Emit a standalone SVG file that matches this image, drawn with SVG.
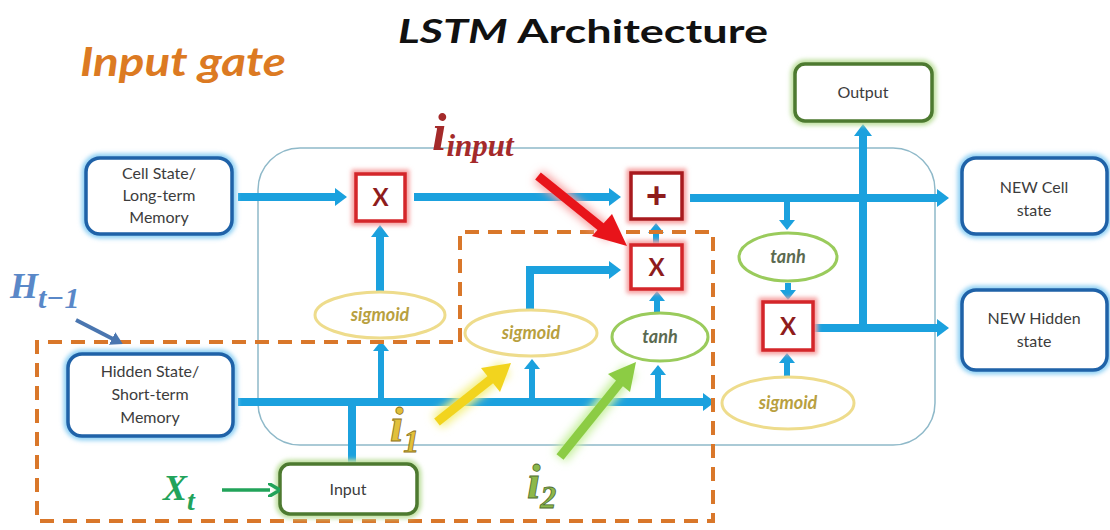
<svg xmlns="http://www.w3.org/2000/svg" width="1110" height="530" viewBox="0 0 1110 530">
  <defs>
    <style>
      .title { font-family: Lato, "Open Sans", "Liberation Sans", sans-serif; font-weight: bold; fill: #111; }
      .gate { font-family: Lato, "Open Sans", "Liberation Sans", sans-serif; font-weight: bold; font-style: italic; fill: #dc7a22; }
      .lbl { font-family: Lato, "Open Sans", "Liberation Sans", sans-serif; font-size: 16px; fill: #3c3c3c; text-anchor: middle; }
      .op { font-family: Lato, "Open Sans", "Liberation Sans", sans-serif; font-size: 24px; font-weight: bold; fill: #8e1c1c; text-anchor: middle; }
      .plus { font-family: "Liberation Sans", Arial, sans-serif; font-size: 36px; font-weight: bold; fill: #8e1c1c; text-anchor: middle; }
      .act { font-family: Lato, "Open Sans", "Liberation Sans", sans-serif; font-size: 18px; font-style: italic; font-weight: bold; text-anchor: middle; }
      .math { font-family: "Liberation Serif", "DejaVu Serif", serif; font-style: italic; font-weight: bold; }
      .bluebox { fill: #fff; stroke: #1f62a8; stroke-width: 3.5; }
      .blueglow { fill: none; stroke: #8fd0f4; stroke-width: 9; filter: url(#soft); }
      .greenbox { fill: #fff; stroke: #4d7a30; stroke-width: 3.5; }
      .greenglow { fill: none; stroke: #bfe0a0; stroke-width: 9; filter: url(#soft); }
      .redbox { fill: #fff; stroke: #d4262a; stroke-width: 3.5; }
      .redglow { fill: none; stroke: #f6a0a0; stroke-width: 9; filter: url(#soft); }
      .sig { fill: #fff; stroke: #eedc8c; stroke-width: 3; }
      .tnh { fill: #fff; stroke: #9acb5c; stroke-width: 3; }
      .wire { fill: none; stroke: #1ba1de; stroke-width: 8; }
      .stub { fill: none; stroke: #1ba1de; stroke-width: 6; }
    </style>
    <filter id="soft" x="-20%" y="-30%" width="140%" height="160%">
      <feGaussianBlur stdDeviation="2.2"/>
    </filter>
    <filter id="halo" x="-40%" y="-40%" width="180%" height="180%">
      <feGaussianBlur stdDeviation="4"/>
    </filter>
    <marker id="ab" viewBox="0 -9 12 18" markerWidth="12" markerHeight="18" refX="1" refY="0" orient="auto" markerUnits="userSpaceOnUse">
      <path d="M0,-9 L12,0 L0,9 z" fill="#1ba1de"/>
    </marker>
    <marker id="as" viewBox="0 -8 10 16" markerWidth="10" markerHeight="16" refX="1" refY="0" orient="auto" markerUnits="userSpaceOnUse">
      <path d="M0,-8 L10,0 L0,8 z" fill="#1ba1de"/>
    </marker>
    <marker id="hb" viewBox="0 -7 12 14" markerWidth="12" markerHeight="14" refX="1" refY="0" orient="auto" markerUnits="userSpaceOnUse">
      <path d="M0,-7 L12,0 L0,7 z" fill="#4a76b0"/>
    </marker>
    <marker id="xg" viewBox="0 -7 12 14" markerWidth="12" markerHeight="14" refX="2" refY="0" orient="auto" markerUnits="userSpaceOnUse">
      <path d="M0,-7 L12,0 L0,7" fill="none" stroke="#22a35a" stroke-width="3.5"/>
    </marker>
  </defs>

  <rect width="1110" height="530" fill="#ffffff"/>

  <!-- headings -->
  <text class="title" x="398" y="43" font-size="32" textLength="370" lengthAdjust="spacingAndGlyphs"><tspan font-style="italic">LSTM</tspan> Architecture</text>
  <text class="gate" x="80" y="76" font-size="40" textLength="206" lengthAdjust="spacingAndGlyphs">Input gate</text>

  <!-- cell body -->
  <rect id="cell-body" x="258" y="148" width="677" height="297" rx="42" fill="none" stroke="#8fb9c9" stroke-width="1.5"/>

  <!-- connectors -->
  <g id="connectors">
    <path class="wire" d="M238,197 H336" marker-end="url(#ab)"/>
    <path class="wire" d="M414,197 H610" marker-end="url(#ab)"/>
    <path class="wire" d="M690,198 H938" marker-end="url(#ab)"/>
    <path class="stub" d="M787,198 V221" marker-end="url(#as)"/>
    <path class="stub" d="M788,283 V291" marker-end="url(#as)"/>
    <path class="stub" d="M787,378 V362" marker-end="url(#as)"/>
    <path class="wire" d="M813,328 H938" marker-end="url(#ab)"/>
    <path class="wire" d="M863,328 V135" marker-end="url(#ab)"/>
    <path class="wire" d="M238,402 H704" marker-end="url(#ab)"/>
    <path class="wire" d="M352,464 V398"/>
    <path class="stub" d="M381,402 V350" marker-end="url(#as)"/>
    <path class="wire" d="M380,292 V236" marker-end="url(#ab)"/>
    <path class="stub" d="M532,402 V368" marker-end="url(#as)"/>
    <path class="stub" d="M658,402 V374" marker-end="url(#as)"/>
    <path class="wire" d="M530,310 V270 H610" marker-end="url(#ab)"/>
    <path class="stub" d="M657,313 V300" marker-end="url(#as)"/>
    <path class="stub" d="M656,245 V232" marker-end="url(#as)"/>
  </g>

  <!-- input gate region -->
  <path id="input-gate-region" d="M460,342 V232 H713 V521 H37 V342 Z" fill="none" stroke="#d9772a" stroke-width="4" stroke-dasharray="14 9"/>

  <!-- state boxes -->
  <g id="cell-state">
    <rect class="blueglow" x="86" y="158" width="146" height="76" rx="14"/>
    <rect class="bluebox" x="86" y="158" width="146" height="76" rx="14"/>
    <text class="lbl" x="159" y="179">Cell State/</text>
    <text class="lbl" x="159" y="201">Long-term</text>
    <text class="lbl" x="159" y="223">Memory</text>
  </g>
  <g id="hidden-state">
    <rect class="blueglow" x="68" y="354" width="165" height="82" rx="14"/>
    <rect class="bluebox" x="68" y="354" width="165" height="82" rx="14"/>
    <text class="lbl" x="150" y="377">Hidden State/</text>
    <text class="lbl" x="150" y="400">Short-term</text>
    <text class="lbl" x="150" y="423">Memory</text>
  </g>
  <g id="new-cell-state">
    <rect class="blueglow" x="962" y="158" width="145" height="76" rx="14"/>
    <rect class="bluebox" x="962" y="158" width="145" height="76" rx="14"/>
    <text class="lbl" x="1034" y="193">NEW Cell</text>
    <text class="lbl" x="1034" y="216">state</text>
  </g>
  <g id="new-hidden-state">
    <rect class="blueglow" x="962" y="290" width="145" height="80" rx="14"/>
    <rect class="bluebox" x="962" y="290" width="145" height="80" rx="14"/>
    <text class="lbl" x="1034" y="324">NEW Hidden</text>
    <text class="lbl" x="1034" y="347">state</text>
  </g>
  <g id="output">
    <rect class="greenglow" x="795" y="64" width="137" height="57" rx="10"/>
    <rect class="greenbox" x="795" y="64" width="137" height="57" rx="10"/>
    <text class="lbl" x="863" y="98">Output</text>
  </g>
  <g id="input">
    <rect class="greenglow" x="280" y="464" width="137" height="50" rx="10"/>
    <rect class="greenbox" x="280" y="464" width="137" height="50" rx="10"/>
    <text class="lbl" x="348" y="495">Input</text>
  </g>

  <!-- pointwise operations -->
  <g id="forget-mul">
    <rect class="redglow" x="356" y="174" width="49" height="47"/>
    <rect class="redbox" x="356" y="174" width="49" height="47"/>
    <text class="op" x="380.5" y="206">X</text>
  </g>
  <g id="cell-add">
    <rect class="redglow" x="631" y="173" width="51" height="46"/>
    <rect class="redbox" x="631" y="173" width="51" height="46" style="stroke:#a81a1e"/>
    <text class="plus" x="656.5" y="208">+</text>
  </g>
  <g id="input-mul">
    <rect class="redglow" x="631" y="245" width="51" height="44"/>
    <rect class="redbox" x="631" y="245" width="51" height="44"/>
    <text class="op" x="656.5" y="276">X</text>
  </g>
  <g id="output-mul">
    <rect class="redglow" x="763" y="302" width="50" height="48"/>
    <rect class="redbox" x="763" y="302" width="50" height="48"/>
    <text class="op" x="788" y="335">X</text>
  </g>

  <!-- activations -->
  <g id="forget-sigmoid">
    <ellipse class="sig" cx="380" cy="315" rx="65" ry="23"/>
    <text class="act" x="380" y="321" fill="#b8a040">sigmoid</text>
  </g>
  <g id="input-sigmoid">
    <ellipse class="sig" cx="531" cy="333" rx="66" ry="23"/>
    <text class="act" x="531" y="339" fill="#b8a040">sigmoid</text>
  </g>
  <g id="input-tanh">
    <ellipse class="tnh" cx="660" cy="337" rx="48" ry="24"/>
    <text class="act" x="660" y="343" fill="#5b6a50">tanh</text>
  </g>
  <g id="cell-tanh">
    <ellipse class="tnh" cx="788" cy="257" rx="49" ry="24"/>
    <text class="act" x="788" y="263" fill="#5b6a50">tanh</text>
  </g>
  <g id="output-sigmoid">
    <ellipse class="sig" cx="788" cy="403" rx="66" ry="26"/>
    <text class="act" x="788" y="409" fill="#b8a040">sigmoid</text>
  </g>

  <!-- annotations -->
  <g id="h-prev-label">
    <text class="math" x="10" y="298" font-size="36" fill="#5a88c8">H<tspan font-size="30" dy="10">t−1</tspan></text>
    <path d="M76,320 L113,339" stroke="#4a76b0" stroke-width="4" fill="none" marker-end="url(#hb)"/>
  </g>
  <g id="x-t-label">
    <text class="math" x="163" y="500" font-size="36" fill="#22a35a">X<tspan font-size="28" dy="10">t</tspan></text>
    <path d="M222,490 H270" stroke="#22a35a" stroke-width="3.5" fill="none" marker-end="url(#xg)"/>
  </g>
  <g id="i-input-label">
    <text class="math" x="432" y="150" font-size="52" fill="#a42a2a">i<tspan font-size="31" dy="6">input</tspan></text>
    <path d="M538,176 L612,236" stroke="#f8a0a0" stroke-width="14" fill="none" filter="url(#halo)"/>
    <path d="M538,176 L606,231" stroke="#e8141a" stroke-width="9" fill="none"/>
    <path d="M627,246 L592,236 L612,214 z" fill="#e8141a"/>
  </g>
  <g id="i1-label">
    <path d="M437,422 L505,368" stroke="#f4f080" stroke-width="16" fill="none" filter="url(#halo)"/>
    <path d="M437,422 L495,376" stroke="#f2d41e" stroke-width="9" fill="none"/>
    <path d="M511,363 L500,392 L481,368 z" fill="#f2d41e"/>
    <text class="math" x="390" y="441" font-size="48" fill="#e2c03a" stroke="#8a7020" stroke-width="0.8">i<tspan font-size="32" dy="11">1</tspan></text>
  </g>
  <g id="i2-label">
    <path d="M560,457 L630,370" stroke="#c8f0a0" stroke-width="16" fill="none" filter="url(#halo)"/>
    <path d="M560,457 L623,379" stroke="#8ccc44" stroke-width="9" fill="none"/>
    <path d="M636,362 L630,392 L608,374 z" fill="#8ccc44"/>
    <text class="math" x="527" y="498" font-size="48" fill="#8cb84a" stroke="#4e6a30" stroke-width="0.8">i<tspan font-size="32" dy="10">2</tspan></text>
  </g>
</svg>
